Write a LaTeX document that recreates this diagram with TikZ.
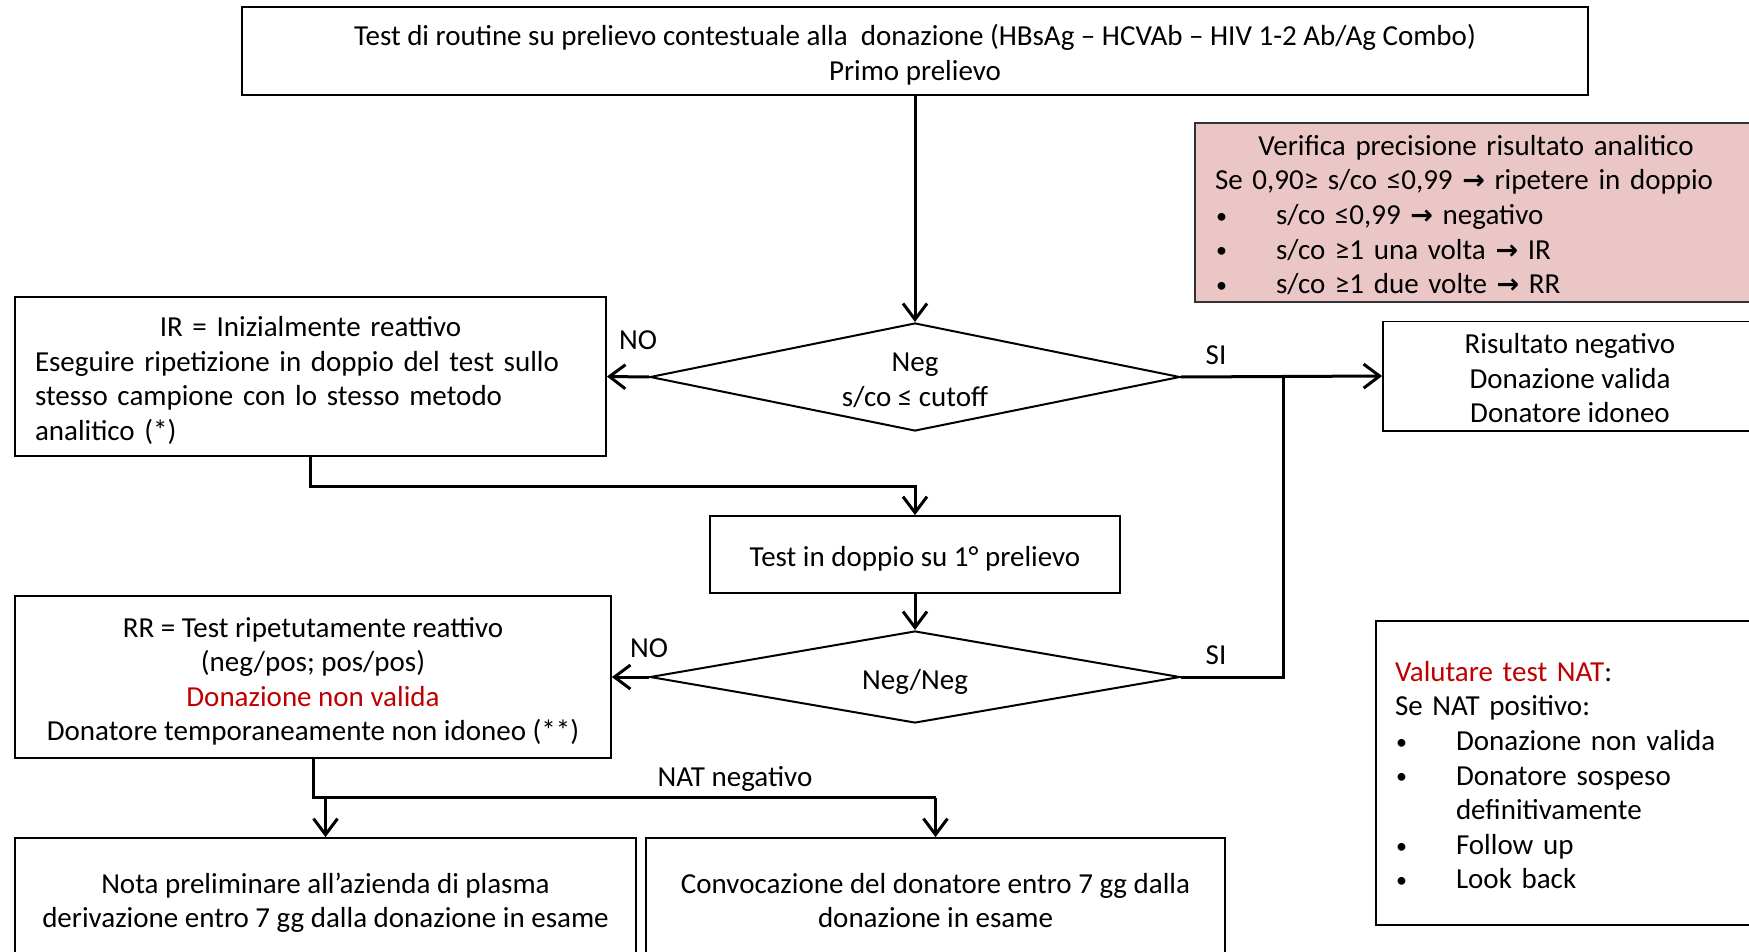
\documentclass[tikz,border=0pt]{standalone}
\usepackage{fontspec}
\setmainfont{Carlito}
\newfontfamily\symfont{DejaVu Sans}
\usetikzlibrary{arrows.meta,shapes.geometric}
\definecolor{pinkfill}{RGB}{235,198,198}
\definecolor{alertred}{RGB}{192,0,0}
% bold arrow used inside the texts
\newcommand{\rarr}{{\symfont\bfseries\fontsize{13.5}{13.5}\selectfont →}}
% bulleted line with hanging indent
\newcommand{\blt}[1]{\hspace*{0.5pt}\makebox[30pt][l]{\raisebox{0.6pt}{\fontsize{11}{11}\selectfont\textbullet}}#1}
% struts that fix the height of the first line and the depth of the last one
\newcommand{\topstrut}{\rule{0pt}{16pt}}
\newcommand{\botstrut}{\rule[-4pt]{0pt}{4pt}}
\begin{document}
\begin{tikzpicture}[x=0.5pt,y=-0.5pt,
  font=\fontsize{14.5}{17.3}\selectfont,
  box/.style={draw, line width=0.9pt, inner sep=0pt, align=center},
  choice/.style={diamond, draw, line width=1pt, inner sep=0pt, align=center},
  conn/.style={line width=1.5pt},
  arr/.style={conn, -{Straight Barb[length=8pt,width=12pt]}},
  lbl/.style={inner sep=0pt}]
\useasboundingbox (0,0) rectangle (1749,952);

% boxes
\node[box, minimum width=673pt, minimum height=44pt] (top) at (915,51)
  {\topstrut Test di routine su prelievo contestuale alla\ \ donazione (HBsAg – HCVAb – HIV 1-2 Ab/Ag Combo)\\Primo prelievo\botstrut};

\node[box, fill=pinkfill, draw=black!80, minimum width=281pt, minimum height=88.5pt,
      text width=261pt, align=left] (check) at (1476,212.5)
  {\topstrut\makebox[261pt][c]{Verifica precisione risultato analitico}\\
   Se 0,90≥ s/co ≤0,99 \rarr{} ripetere in doppio\\
   \blt{s/co ≤0,99 \rarr{} negativo}\\
   \blt{s/co ≥1 una volta \rarr{} IR}\\
   \blt{s/co ≥1 due volte \rarr{} RR}\botstrut};

\node[choice, minimum width=265pt, minimum height=54pt, aspect=4.9] (d1) at (915,377)
  {\topstrut Neg\\s/co ≤ cutoff\botstrut};

\node[box, minimum width=295.5pt, minimum height=79.5pt, text width=275.5pt, align=left] (ir) at (310.5,376.5)
  {\topstrut\makebox[275.5pt][c]{IR = Inizialmente reattivo}\\
   Eseguire ripetizione in doppio del test sullo\\
   stesso campione con lo stesso metodo\\
   analitico (*)\botstrut};

\node[box, minimum width=187pt, minimum height=53pt] (res) at (1570,376)
  {\topstrut Risultato negativo\\Donazione valida\\Donatore idoneo\botstrut};

\node[box, minimum width=205pt, minimum height=38.5pt] (test) at (915,554.5)
  {\topstrut Test in doppio su 1° prelievo\botstrut};

\node[choice, minimum width=265pt, minimum height=46pt, aspect=5.76] (d2) at (915,677)
  {\topstrut Neg/Neg\botstrut};

\node[box, minimum width=298pt, minimum height=81pt] (rr) at (313,677)
  {\topstrut RR = Test ripetutamente reattivo\\(neg/pos; pos/pos)\\
   \textcolor{alertred}{Donazione non valida}\\Donatore temporaneamente non idoneo (**)\botstrut};

\node[box, minimum width=310.5pt, minimum height=60.5pt] (nota) at (325.5,898.5)
  {\topstrut Nota preliminare all’azienda di plasma\\derivazione entro 7 gg dalla donazione in esame\botstrut};

\node[box, minimum width=289.5pt, minimum height=60.5pt] (conv) at (935.5,898.5)
  {\topstrut Convocazione del donatore entro 7 gg dalla\\donazione in esame\botstrut};

\node[box, minimum width=190.5pt, minimum height=152pt, text width=171.5pt, align=left] (nat) at (1566.5,773)
  {\topstrut\textcolor{alertred}{Valutare test NAT}:\\
   Se NAT positivo:\\
   \blt{Donazione non valida}\\
   \blt{Donatore sospeso}\\
   \hspace*{30.5pt}definitivamente\\
   \blt{Follow up}\\
   \blt{Look back}\botstrut};

% connectors
\coordinate (merge) at (1283,377);
\draw[arr] (top.south) -- (d1.north);
\draw[arr] (d1.west) -- (ir.east);
\draw[arr] (d1.east) -- (res.west);
\draw[conn] (d2.east) -| (merge);
\draw[arr] (ir.south) -- ++(0,30) -| (test.north);
\draw[arr] (test.south) -- (d2.north);
\draw[arr] (d2.west) -- (rr.east);
\draw[conn] (rr.south) -- ++(0,39) coordinate (fork) -- (fork -| conv.north);
\draw[arr] (fork -| nota.north) -- (nota.north);
\draw[arr] (fork -| conv.north) -- (conv.north);

% branch labels
\node[lbl] (no1) at (638,340) {NO};
\node[lbl] (si1) at (1216,355) {SI};
\node[lbl] (no2) at (649,648) {NO};
\node[lbl] (si2) at (1216,655) {SI};
\node[lbl] (natneg) at (735,779) {NAT negativo};
\end{tikzpicture}
\end{document}
